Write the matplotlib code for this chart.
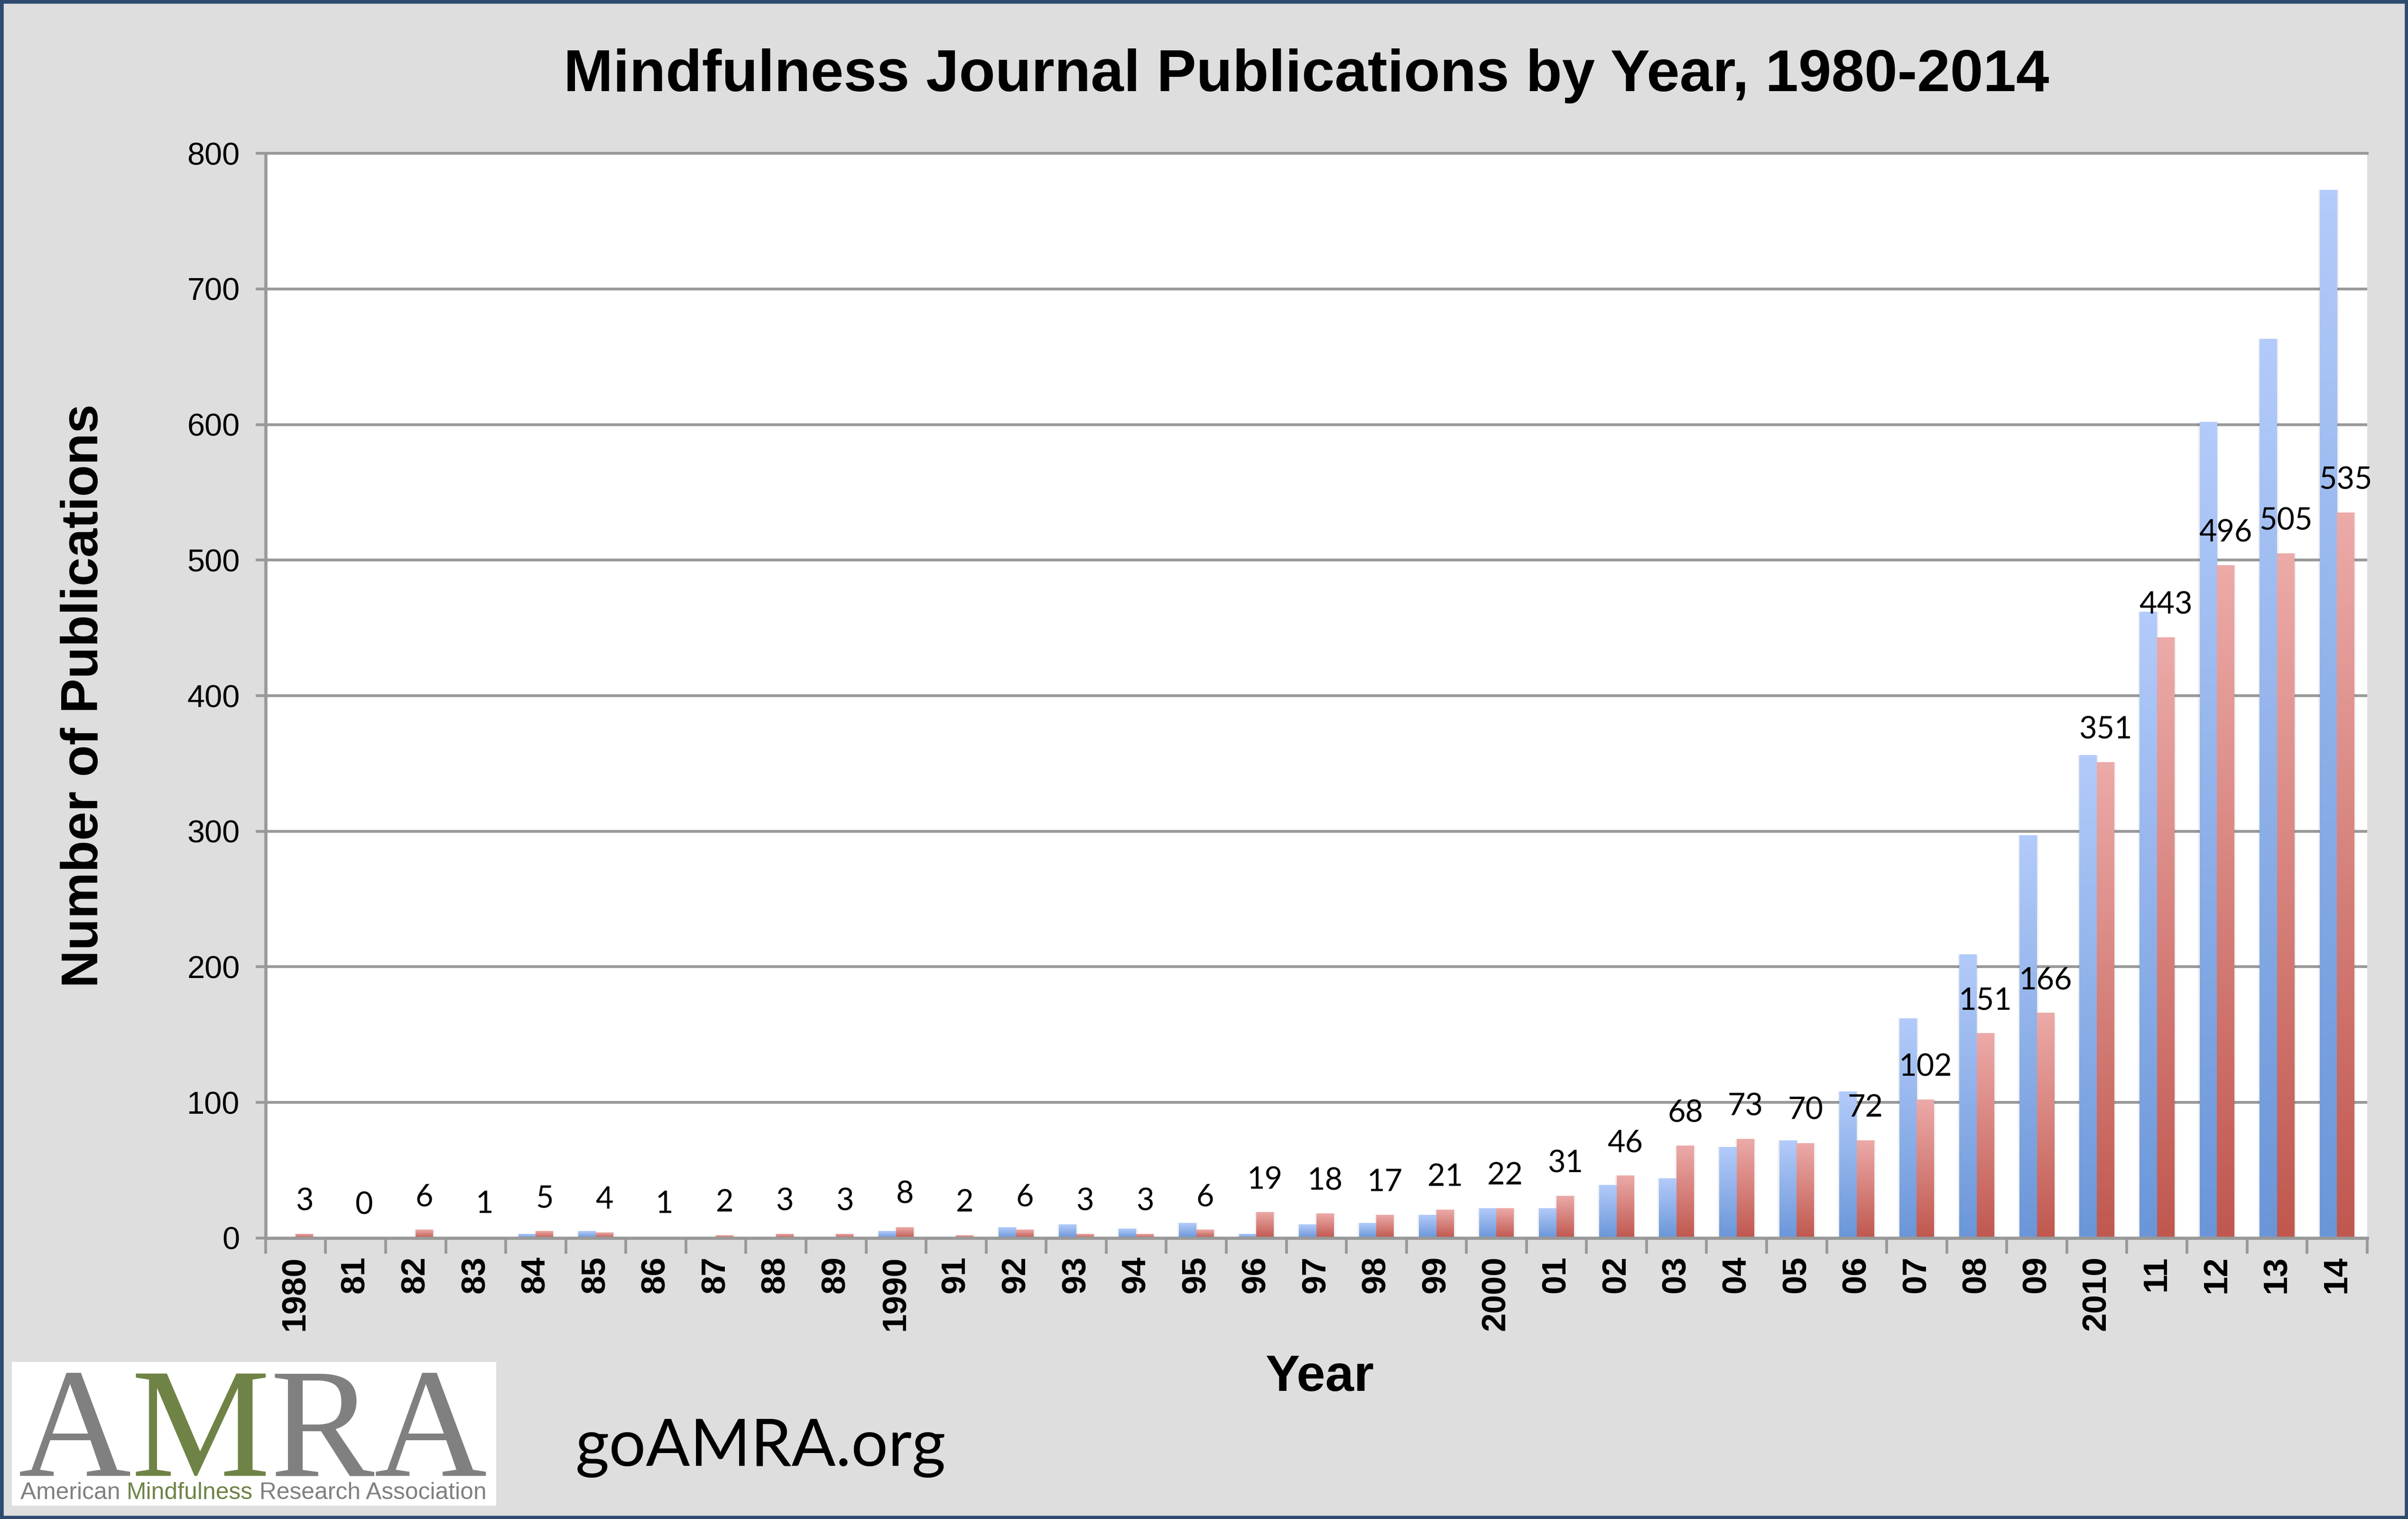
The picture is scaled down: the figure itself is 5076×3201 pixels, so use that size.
import numpy as np
import matplotlib.pyplot as plt
from matplotlib.colors import LinearSegmentedColormap
from matplotlib.patches import Rectangle
from matplotlib import font_manager

# data
years = ['1980', '81', '82', '83', '84', '85', '86', '87', '88', '89',
         '1990', '91', '92', '93', '94', '95', '96', '97', '98', '99',
         '2000', '01', '02', '03', '04', '05', '06', '07', '08', '09',
         '2010', '11', '12', '13', '14']
blue_vals = [0, 0, 1, 1, 3, 5, 0, 0, 1, 1,
             5, 1, 8, 10, 7, 11, 3, 10, 11, 17,
             22, 22, 39, 44, 67, 72, 108, 162, 209, 297,
             356, 462, 602, 663, 773]
red_vals = [3, 0, 6, 1, 5, 4, 1, 2, 3, 3,
            8, 2, 6, 3, 3, 6, 19, 18, 17, 21,
            22, 31, 46, 68, 73, 70, 72, 102, 151, 166,
            351, 443, 496, 505, 535]
y_ticks = [0, 100, 200, 300, 400, 500, 600, 700, 800]

installed = {f.name for f in font_manager.fontManager.ttflist}
narrow = 'Liberation Sans Narrow' if 'Liberation Sans Narrow' in installed else 'Liberation Sans'
plt.rcParams['font.family'] = ['Liberation Sans', 'DejaVu Sans']

BG = '#DEDEDE'
GRID = '#999999'

fig = plt.figure(figsize=(16.92, 10.67), dpi=300, facecolor=BG)
ax = fig.add_axes([0.1103, 0.185, 0.8727, 0.714])
ax.set_facecolor('white')

x = np.arange(len(years))
w = 0.29
blue_bars = ax.bar(x - w / 2, blue_vals, w, color='none', zorder=2)
red_bars = ax.bar(x + w / 2, red_vals, w, color='none', zorder=2)


def gradient_fill(bars, top, bottom):
    cmap = LinearSegmentedColormap.from_list('g', [bottom, top])
    grad = np.linspace(0, 1, 256).reshape(-1, 1)
    for b in bars:
        h = b.get_height()
        if h <= 0:
            continue
        x0 = b.get_x()
        bw = b.get_width()
        # soft shadow on the sides of each bar
        ax.add_patch(Rectangle((x0 - 0.025, 0), bw + 0.05, h, facecolor='#000000',
                               alpha=0.06, edgecolor='none', zorder=1.8))
        ax.imshow(grad, extent=[x0, x0 + bw, 0, h], origin='lower', cmap=cmap,
                  aspect='auto', zorder=2, interpolation='bilinear')


gradient_fill(blue_bars, '#B3CBFA', '#6A96D8')
gradient_fill(red_bars, '#ECAAA8', '#C0584F')

for xi, v in zip(x, red_vals):
    ax.annotate(str(v), xy=(xi + w / 2, v), xytext=(0, 12), textcoords='offset points',
                ha='center', va='baseline', fontsize=15.5, family='Lato', zorder=5)

ax.set_xlim(-0.5, len(years) - 0.5)
ax.set_ylim(0, 800)
ax.set_yticks(y_ticks)
ax.set_yticklabels([str(t) for t in y_ticks], fontsize=16)
ax.set_xticks(x)
ax.set_xticklabels(years, rotation=90, fontsize=17, fontweight='bold')
ax.set_xticks(np.arange(-0.5, len(years)), minor=True)
ax.tick_params(axis='x', which='major', length=0, pad=9)
ax.tick_params(axis='x', which='minor', length=8, width=1.4, color=GRID, direction='out')
ax.tick_params(axis='y', length=5, width=1.4, color=GRID, direction='out', pad=8)

ax.grid(axis='y', color=GRID, linewidth=1.4)
ax.set_axisbelow(True)
for s in ['top', 'right']:
    ax.spines[s].set_visible(False)
for s in ['left', 'bottom']:
    ax.spines[s].set_color(GRID)
    ax.spines[s].set_linewidth(1.6)
ax.axhline(800, color=GRID, linewidth=1.4, clip_on=False, zorder=0.5)

fig.text(0.5424, 0.950, 'Mindfulness Journal Publications by Year, 1980-2014',
         ha='center', va='center', fontsize=30, fontweight='bold')
fig.text(0.035, 0.542, 'Number of Publications', rotation=90, ha='center', va='center',
         fontsize=26.3, fontweight='bold')
fig.text(0.548, 0.093, 'Year', ha='center', va='center', fontsize=26, fontweight='bold')
fig.text(0.239, 0.035, 'goAMRA.org', ha='left', va='baseline', fontsize=33, family='Lato')

# AMRA logo box
fig.patches.append(Rectangle((0.0049, 0.0087), 0.2012, 0.0947, transform=fig.transFigure,
                             facecolor='white', edgecolor='none', zorder=1))

fig.canvas.draw()
renderer = fig.canvas.get_renderer()
inv = fig.transFigure.inverted()


def colored_text(x0, y0, parts, **kw):
    for s, c in parts:
        t = fig.text(x0, y0, s, color=c, ha='left', va='baseline', zorder=3, **kw)
        bb = t.get_window_extent(renderer)
        x0 = inv.transform((bb.x1, bb.y0))[0]


GRAY = '#808080'
GREEN = '#6F8346'
colored_text(0.0077, 0.0285, [('A', GRAY), ('M', GREEN), ('R', GRAY), ('A', GRAY)],
             fontsize=79, family='Liberation Serif')
colored_text(0.0084, 0.0130, [('American ', GRAY), ('Mindfulness', GREEN),
                              (' Research Association', GRAY)],
             fontsize=13.5 if narrow != 'Liberation Sans' else 11.95, family=narrow)

fig.patches.append(Rectangle((0, 0), 1, 1, transform=fig.transFigure, fill=False,
                             edgecolor='#2E4A6F', linewidth=3.5, zorder=10))

fig.savefig('out.png', dpi=300, facecolor=BG)
